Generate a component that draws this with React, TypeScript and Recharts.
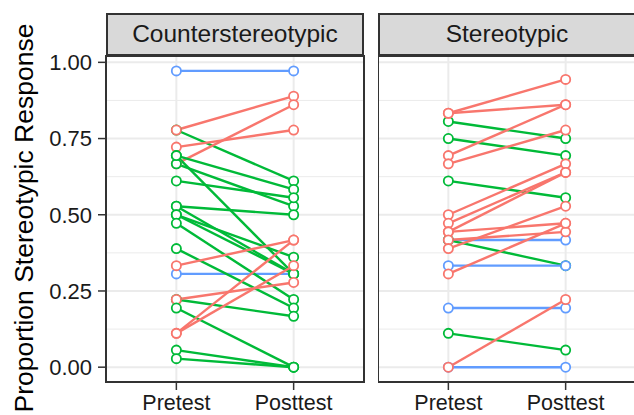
import React from 'react';
import { LineChart, Line, XAxis, YAxis, CartesianGrid, ReferenceArea } from 'recharts';

const categories = ['Pretest', 'Posttest'];
const panelTitles = ['Counterstereotypic', 'Stereotypic'];
const yTicks = [0, 0.25, 0.5, 0.75, 1];
const yMinorTicks = [0.125, 0.375, 0.625, 0.875];
const yTitle = 'Proportion Stereotypic Response';

// Counterstereotypic panel: one entry per participant (pretest, posttest)
const counterPre = [0.972, 0.306, 0.778, 0.778, 0.722, 0.667, 0.694, 0.667, 0.611, 0.694, 0.528, 0.528, 0.5, 0.5, 0.472, 0.389, 0.333, 0.222, 0.222, 0.194, 0.111, 0.111, 0.056, 0.028];
const counterPost = [0.972, 0.306, 0.611, 0.889, 0.778, 0.861, 0.583, 0.528, 0.556, 0.306, 0.5, 0.306, 0.361, 0.306, 0.222, 0.194, 0.417, 0.167, 0.278, 0, 0.417, 0.333, 0, 0];

// Stereotypic panel
const stereoPre = [0.417, 0.417, 0.333, 0.194, 0, 0.806, 0.833, 0.833, 0.75, 0.694, 0.667, 0.611, 0.5, 0.472, 0.444, 0.444, 0.417, 0.389, 0.306, 0.111, 0];
const stereoPost = [0.417, 0.333, 0.333, 0.194, 0, 0.75, 0.944, 0.861, 0.694, 0.861, 0.778, 0.556, 0.667, 0.639, 0.639, 0.472, 0.444, 0.528, 0.472, 0.056, 0.222];

const COLOR_UP = '#F8766D';
const COLOR_DOWN = '#00BA38';
const COLOR_SAME = '#619CFF';

const FONT = '"Liberation Sans", Arial, Helvetica, sans-serif';
const Y_DOMAIN: [number, number] = [-0.0486, 1.0208];
const X_DOMAIN: [number, number] = [0.4, 2.6];

function colorFor(a: number, b: number) {
  if (b > a) return COLOR_UP;
  if (b < a) return COLOR_DOWN;
  return COLOR_SAME;
}

function Panel({ pre, post, showY, width }: { pre: number[]; post: number[]; showY: boolean; width: number }) {
  const data = categories.map((c, i) => {
    const row: Record<string, number> = { x: i + 1 };
    pre.forEach((v, k) => {
      row['s' + k] = i === 0 ? v : post[k];
    });
    return row;
  });
  return (
    <LineChart width={width} height={415} data={data} margin={{ top: 56, right: 2, bottom: 0, left: 0 }}>
      <CartesianGrid horizontal vertical={false} horizontalValues={yMinorTicks} stroke="#EBEBEB" strokeWidth={1} />
      <CartesianGrid horizontal vertical horizontalValues={yTicks} verticalValues={[1, 2]} stroke="#EBEBEB" strokeWidth={2} />
      <XAxis
        type="number"
        dataKey="x"
        domain={X_DOMAIN}
        ticks={[1, 2]}
        allowDataOverflow
        tickFormatter={(v: number) => categories[v - 1]}
        height={33}
        axisLine={false}
        tickSize={8}
        tickMargin={5}
        tickLine={{ stroke: '#333333', strokeWidth: 1.5 }}
        tick={{ fontSize: 21.5, fill: '#1A1A1A', fontFamily: FONT }}
      />
      <YAxis
        type="number"
        domain={Y_DOMAIN}
        ticks={yTicks}
        allowDataOverflow
        hide={!showY}
        width={106}
        axisLine={false}
        tickSize={8}
        tickMargin={6}
        tickLine={{ stroke: '#333333', strokeWidth: 1.5 }}
        tickFormatter={(v: number) => v.toFixed(2)}
        tick={{ fontSize: 22, fill: '#1A1A1A', fontFamily: FONT }}
      />
      {pre.map((v, k) => (
        <Line
          key={'l' + k}
          type="linear"
          dataKey={'s' + k}
          stroke={colorFor(v, post[k])}
          strokeWidth={2.4}
          dot={false}
          activeDot={false}
          isAnimationActive={false}
        />
      ))}
      {pre.map((v, k) => (
        <Line
          key={'p' + k}
          type="linear"
          dataKey={'s' + k}
          stroke="none"
          dot={{ r: 4.6, fill: '#FFFFFF', stroke: colorFor(v, post[k]), strokeWidth: 1.8 }}
          activeDot={false}
          isAnimationActive={false}
        />
      ))}
      <ReferenceArea
        x1={X_DOMAIN[0]}
        x2={X_DOMAIN[1]}
        y1={Y_DOMAIN[0]}
        y2={Y_DOMAIN[1]}
        fill="none"
        fillOpacity={0}
        stroke="#333333"
        strokeWidth={2}
        ifOverflow="visible"
      />
    </LineChart>
  );
}

function Strip({ title, left }: { title: string; left: number }) {
  return (
    <div
      style={{
        position: 'absolute',
        left,
        top: 12.7,
        width: 258,
        height: 43,
        boxSizing: 'border-box',
        background: '#D9D9D9',
        border: '2px solid #333333',
        display: 'flex',
        alignItems: 'center',
        justifyContent: 'center',
        fontFamily: FONT,
        fontSize: 24.5,
        color: '#1A1A1A',
      }}
    >
      {title}
    </div>
  );
}

export default function App() {
  return (
    <div style={{ position: 'absolute', left: 0, top: 0, width: 634, height: 415, overflow: 'hidden', background: '#FFFFFF' }}>
      <div style={{ position: 'absolute', left: 0, top: 0 }}>
        <Panel pre={counterPre} post={counterPost} showY={true} width={366} />
      </div>
      <div style={{ position: 'absolute', left: 378, top: 0 }}>
        <Panel pre={stereoPre} post={stereoPost} showY={false} width={260} />
      </div>
      <Strip title={panelTitles[0]} left={106} />
      <Strip title={panelTitles[1]} left={378} />
      <svg width={60} height={415} style={{ position: 'absolute', left: 0, top: 0 }}>
        <text
          transform="translate(33,218) rotate(-90)"
          textAnchor="middle"
          fontFamily={FONT}
          fontSize={26.5}
          fill="#000000"
        >
          {yTitle}
        </text>
      </svg>
    </div>
  );
}
